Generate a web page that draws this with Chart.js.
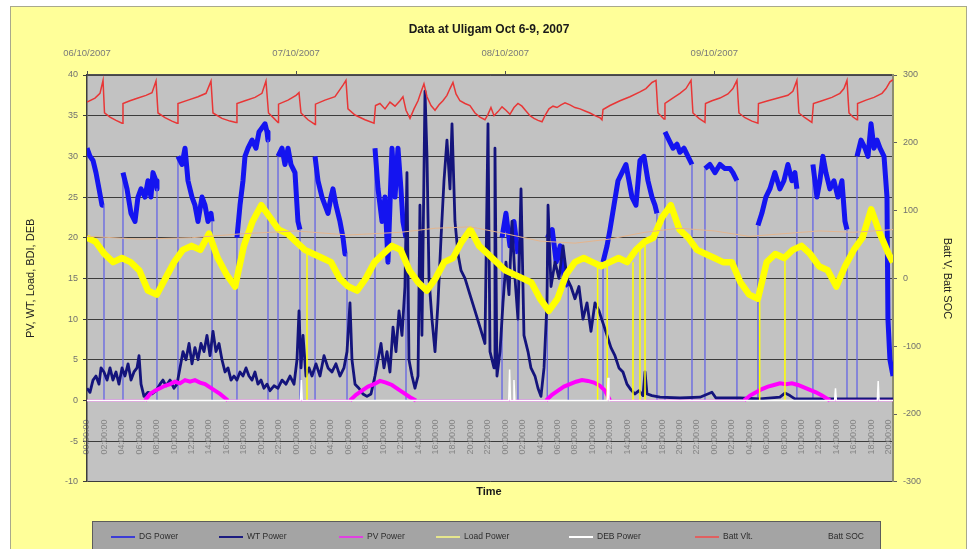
<!DOCTYPE html>
<html>
<head>
<meta charset="utf-8">
<script src="https://cdn.jsdelivr.net/npm/chart.js@4.4.0/dist/chart.umd.min.js"></script>
<style>
  html, body { margin: 0; padding: 0; background: #ffffff; }
  #wrap { width: 974px; height: 549px; }
</style>
</head>
<body>
<div id="wrap"><canvas id="chart" width="974" height="549"></canvas></div>
<script>
// hours counted from 06/10/2007 00:00
const dateLabels = ["06/10/2007", "07/10/2007", "08/10/2007", "09/10/2007"];
const timeLabels = [
  "00:00:00", "02:00:00", "04:00:00", "06:00:00", "08:00:00", "10:00:00", "12:00:00", "14:00:00", "16:00:00", "18:00:00", "20:00:00", "22:00:00",
  "00:00:00", "02:00:00", "04:00:00", "06:00:00", "08:00:00", "10:00:00", "12:00:00", "14:00:00", "16:00:00", "18:00:00", "20:00:00", "22:00:00",
  "00:00:00", "02:00:00", "04:00:00", "06:00:00", "08:00:00", "10:00:00", "12:00:00", "14:00:00", "16:00:00", "18:00:00", "20:00:00", "22:00:00",
  "00:00:00", "02:00:00", "04:00:00", "06:00:00", "08:00:00", "10:00:00", "12:00:00", "14:00:00", "16:00:00", "18:00:00", "20:00:00"
];
const seriesNames = ["DG Power", "WT Power", "PV Power", "Load Power", "DEB Power", "Batt Vlt.", "Batt SOC"];

const dgHours = [
  0, 0.34, 0.69, 1.03, 1.38, 1.72, 1.95, 1.95,
  4.13, 4.13, 4.59, 5.05, 5.51, 5.85, 6.20, 6.66, 7.00, 7.34, 7.57, 7.92, 8.03, 8.03,
  10.44, 10.44, 10.90, 11.25, 11.59, 12.05, 12.39, 12.74, 13.20, 13.54, 13.89, 14.23, 14.35, 14.35,
  17.21, 17.21, 17.56, 17.90, 18.13, 18.48, 18.94, 19.39, 19.74, 20.08, 20.43, 20.66, 20.77, 20.77,
  21.92, 21.92, 22.38, 22.72, 23.07, 23.41, 23.87, 24.21, 24.44, 24.44,
  26.17, 26.17, 26.51, 26.97, 27.31, 27.66, 28.00, 28.23, 28.57, 29.03, 29.38, 29.61, 29.84, 29.84,
  33.05, 33.05, 33.40, 33.86, 34.20, 34.54, 34.77, 35.00, 35.35, 35.69, 36.03, 36.26, 36.61, 36.61,
  47.63, 47.63, 48.08, 48.54, 49.00, 49.46, 49.46,
  52.82, 52.82, 53.39, 53.85, 54.31, 54.77, 55.23, 55.23,
  59.22, 59.22, 59.68, 60.02, 60.48, 60.94, 61.40, 61.85, 62.20, 62.54, 63.00, 63.46, 63.92, 64.38, 64.84, 65.18, 65.41, 65.41,
  66.33, 66.33, 66.79, 67.25, 67.71, 68.05, 68.51, 68.97, 69.43, 69.43,
  70.92, 70.92, 71.49, 72.07, 72.64, 73.21, 73.79, 74.13, 74.59, 74.59,
  77.00, 77.00, 77.45, 77.91, 78.37, 78.94, 79.52, 79.98, 80.44, 80.90, 81.24, 81.47, 81.47,
  83.31, 83.31, 83.77, 84.11, 84.46, 84.80, 85.26, 85.72, 86.18, 86.64, 86.99, 87.22, 87.22,
  88.37, 88.37, 88.83, 89.29, 89.63, 89.98, 90.32, 90.67, 91.01, 91.47, 91.81, 91.92, 92.15, 92.50
];
const dgPower = [
  31, 30, 29.5, 28, 26, 24, 24, 0,
  0, 28, 26, 23, 22, 25, 26, 25, 27, 25, 28, 27, 26, 0,
  0, 30, 29, 31, 27, 25, 24, 22, 25, 24, 22, 23, 22, 0,
  0, 20, 24, 27, 30, 31, 32, 31, 33, 33.5, 34, 33, 32, 0,
  0, 30, 31, 29, 31, 29, 28, 22, 21, 0,
  0, 30, 27, 25, 24, 23, 25, 26, 24, 22, 20, 18, 18, 0,
  0, 31, 26, 22, 25, 17, 24, 31, 25, 31, 26, 22, 20, 0,
  0, 20, 23, 19, 22, 18, 0,
  0, 20, 21, 17, 19, 15, 14, 0,
  0, 17, 19, 21, 24, 27, 28, 29, 27, 25, 24, 29.5, 30, 27, 25, 24, 23, 0,
  0, 33, 32, 31, 31.5, 30.5, 31, 30, 29, 0,
  0, 28.5, 29, 28, 29, 28.5, 28.5, 28, 27, 0,
  0, 21.5, 23, 25, 26, 28, 26, 27, 29, 27, 28, 26, 0,
  0, 29, 25, 27, 30, 28, 26, 27, 25, 27, 22, 21, 0,
  0, 30, 32, 31, 30, 34, 31, 32, 31, 30, 25, 10, 5, 3
];

const wtHours = [
  0.00, 0.34, 0.69, 1.03, 1.38, 1.61, 1.95, 2.30, 2.64, 2.98,
  3.33, 3.67, 4.02, 4.36, 4.71, 5.05, 5.39, 5.74, 5.97, 6.20,
  6.54, 7.00, 7.46, 7.92, 8.38, 8.72, 9.07, 9.53, 9.98, 10.33,
  10.67, 11.02, 11.36, 11.71, 12.05, 12.39, 12.74, 13.08, 13.43, 13.77,
  14.12, 14.46, 14.80, 15.15, 15.49, 15.84, 16.18, 16.53, 16.87, 17.21,
  17.56, 17.90, 18.25, 18.59, 18.94, 19.28, 19.62, 19.97, 20.31, 20.66,
  21.00, 21.46, 21.92, 22.38, 22.84, 23.30, 23.76, 24.10, 24.33, 24.56,
  24.79, 25.13, 25.48, 25.82, 26.28, 26.74, 27.20, 27.66, 28.12, 28.57,
  29.03, 29.49, 29.84, 30.18, 30.41, 30.76, 31.21, 31.67, 32.13, 32.59,
  33.05, 33.40, 33.74, 34.08, 34.43, 34.77, 35.12, 35.46, 35.81, 36.15,
  36.49, 36.72, 36.95, 37.30, 37.64, 37.99, 38.21, 38.44, 38.79, 39.02,
  39.25, 39.59, 39.94, 40.28, 40.63, 40.97, 41.31, 41.66, 41.89, 42.23,
  42.58, 42.92, 43.38, 43.95, 44.53, 45.10, 45.67, 46.02, 46.25, 46.71,
  46.82, 47.05, 47.40, 47.74, 48.08, 48.43, 48.77, 49.12, 49.46, 49.81,
  50.15, 50.61, 50.95, 51.41, 51.76, 52.10, 52.45, 52.79, 52.91, 53.25,
  53.71, 54.17, 54.63, 55.09, 55.54, 56.00, 56.46, 56.92, 57.38, 57.84,
  58.30, 58.76, 59.22, 59.68, 60.13, 60.59, 61.05, 61.51, 61.97, 62.43,
  62.89, 63.35, 63.81, 64.04, 64.27, 64.84, 65.76, 68.05, 70.35, 71.72,
  72.18, 74.94, 77.23, 79.52, 80.10, 80.67, 81.24, 84.12, 87.56, 92.50
];
const wtPower = [
  1.5, 1, 2.5, 3, 2, 4, 3.5, 2.5, 4, 2.5,
  3.5, 2, 4, 3, 4.5, 2.5, 3.5, 4, 5.5, 2,
  0.5, 1, 0.8, 1.2, 2, 2.5, 1.8, 2.5, 1.5, 2,
  4, 6, 5, 7, 4.5, 6.5, 5, 7, 6, 8,
  5.5, 8.5, 6, 7, 5, 3.5, 4, 2.5, 3, 2.5,
  3.5, 3, 4, 3, 2.5, 3.5, 2, 2.5, 1.5, 2,
  1.2, 1.8, 1.5, 2.5, 2, 3, 2, 5, 11, 4,
  8, 3, 4, 3, 4.5, 3, 5.5, 4, 3.5, 4.5,
  3, 4, 6, 12, 5, 2, 1.5, 0.8, 0.5, 0.8,
  3, 5, 7, 4, 6, 3.5, 9, 6, 11, 8,
  14, 28, 5, 3, 1.5, 3, 24, 8, 38, 30,
  15, 10, 6, 12, 20, 27, 32, 26, 34, 22,
  18, 16, 15, 13, 11, 9, 7, 34, 6, 4,
  31, 3, 6, 12, 17, 13, 22, 15, 10, 26,
  8, 6, 4, 3, 1.5, 0.5, 4, 12, 24, 14,
  17, 15, 19, 15, 14, 12.5, 14, 10, 12, 8.5,
  12, 11, 9.5, 8, 6.5, 5.5, 4, 3.5, 2, 1.3,
  0.8, 1.2, 0.6, 3.5, 0.8, 0.6, 0.4, 0.3, 0.4, 1,
  0.3, 0.3, 0.2, 0.4, 0.9, 0.6, 0.2, 0.2, 0.2, 0.2
];

const pvHours = [
  0, 6.66, 7.23, 7.80, 8.38, 8.95, 9.53, 10.10, 10.67, 11.25, 11.82, 12.39, 12.97, 13.54, 14.12, 14.69, 15.26, 15.84, 16.18,
  30.18, 30.87, 31.56, 32.25, 32.94, 33.62, 34.31, 35.00, 35.69, 36.38, 37.07, 37.76,
  52.68, 53.36, 54.05, 54.74, 55.43, 56.12, 56.81, 57.49, 58.18, 58.87, 59.45, 60.02,
  75.40, 76.09, 76.78, 77.46, 78.15, 78.84, 79.53, 80.21, 80.90, 81.59, 82.28, 82.97, 83.66, 84.35, 85.27, 92.50
];
const pvPower = [
  0, 0, 0.8, 1.2, 1.5, 1.8, 2.0, 2.3, 2.1, 2.5, 2.3, 2.5, 2.2, 2.0, 1.6, 1.2, 0.8, 0.3, 0,
  0, 0.7, 1.2, 1.7, 2.0, 2.4, 2.2, 1.9, 1.4, 0.9, 0.4, 0,
  0, 0.7, 1.2, 1.7, 2.0, 2.3, 2.5, 2.4, 2.2, 1.8, 1.2, 0,
  0, 0.6, 1.0, 1.4, 1.7, 1.9, 2.1, 2.0, 2.1, 1.9, 1.6, 1.3, 1.0, 0.6, 0, 0
];

const loadHours = [
  0, 1, 2, 3, 4, 5, 6, 7, 8, 9,
  10, 11, 12, 13, 14, 15, 16, 17, 18, 19,
  20, 21, 22, 23, 24, 25, 26, 27, 28, 29,
  30, 31, 32, 33, 34, 35, 36, 37, 38, 39,
  40, 41, 42, 43, 44, 45, 46, 47, 48, 49,
  50, 51, 52, 53, 54, 55, 56, 57, 58, 59,
  60, 61, 62, 63, 64, 65, 66, 67, 68, 69,
  70, 71, 72, 73, 74, 75, 76, 77, 78, 79,
  80, 81, 82, 83, 84, 85, 86, 87, 88, 89,
  90, 91, 92, 92.5
];
const loadPower = [
  20, 19.5, 18, 17, 17.5, 17, 16, 13.5, 13, 15,
  17, 18.5, 19, 18.5, 20.5, 17.5, 15.5, 14, 19, 22,
  24, 22.5, 21, 20.5, 19.5, 18.5, 18, 17.5, 17, 15,
  14, 13.5, 15, 17, 18, 19, 18.5, 16, 14.5, 13.5,
  15, 17, 17.5, 19.5, 21, 19, 18, 17, 16, 15.5,
  15, 14.5, 12.5, 11, 12.5, 15.5, 17, 17.5, 17, 16.5,
  17, 17.5, 17, 18.5, 19.5, 20, 22.5, 24, 21, 20,
  18.5, 18, 17.5, 17, 17, 14.5, 13, 12.5, 17, 18,
  17.5, 18.5, 19, 18, 16.5, 16, 14, 16.5, 18.5, 20,
  23.5, 20.5, 18, 17
];
// short load drop-outs to zero
const loadDropHours = [25.25, 58.6, 59.7, 62.66, 63.46, 64.04, 77.2, 80.1];
const loadDropTops = [18.3, 17, 16.7, 17, 18.7, 19.5, 12.6, 17.5];

const debHours = [0, 24.5, 24.6, 24.7, 48.4, 48.5, 48.6, 48.9, 49.0, 49.1, 59.7, 59.8, 59.9, 85.8, 85.9, 86.0, 90.7, 90.8, 90.9, 92.5];
const debPower = [0, 0, 2.5, 0, 0, 3.8, 0, 0, 2.5, 0, 0, 2.8, 0, 0, 1.5, 0, 0, 2.4, 0, 0];

const battHours = [
  0.00, 0.92, 1.49, 1.84, 2.01, 2.64, 3.33, 4.02, 4.13, 4.93,
  5.85, 6.77, 7.46, 7.92, 8.15, 8.95, 9.75, 10.33, 10.44, 11.59,
  12.74, 13.66, 14.23, 14.46, 15.49, 16.41, 17.10, 17.21, 18.13, 19.28,
  20.08, 20.54, 20.83, 21.46, 21.92, 21.98, 23.07, 23.99, 24.33, 24.56,
  25.36, 26.17, 26.22, 27.31, 28.46, 29.38, 29.72, 29.95, 30.76, 31.90,
  32.94, 33.11, 33.62, 34.20, 34.77, 35.35, 35.92, 36.26, 36.61, 37.07,
  37.53, 37.99, 38.33, 38.67, 39.02, 39.48, 39.94, 40.40, 40.85, 41.31,
  41.66, 42.00, 42.35, 42.80, 43.38, 43.95, 44.53, 45.10, 45.67, 46.02,
  46.36, 46.71, 47.17, 47.63, 48.08, 48.54, 49.00, 49.46, 49.92, 50.38,
  50.84, 51.30, 51.76, 52.22, 52.56, 53.02, 53.48, 53.94, 54.40, 54.86,
  55.43, 56.00, 56.58, 57.15, 57.72, 58.30, 58.87, 59.10, 59.22, 60.02,
  61.17, 62.31, 63.46, 64.15, 64.84, 65.30, 65.53, 66.22, 66.33, 67.14,
  68.05, 68.74, 69.32, 69.54, 70.23, 70.92, 70.98, 71.72, 72.64, 73.56,
  74.13, 74.59, 74.82, 75.51, 76.31, 77.00, 77.06, 78.15, 79.30, 80.44,
  81.01, 81.47, 81.70, 82.39, 83.19, 83.37, 84.35, 85.49, 86.41, 86.87,
  87.22, 87.45, 87.91, 88.37, 88.43, 89.40, 90.32, 91.24, 91.70, 92.15,
  92.50
];
const battVolt = [
  260, 266, 273, 292, 244, 238, 233, 229, 258, 262,
  266, 270, 274, 291, 244, 237, 232, 229, 258, 263,
  268, 273, 291, 244, 236, 232, 230, 258, 262, 267,
  273, 291, 244, 236, 230, 257, 263, 270, 274, 244,
  234, 227, 257, 263, 268, 285, 292, 250, 241, 234,
  229, 255, 258, 250, 260, 254, 262, 268, 248, 236,
  250, 262, 275, 287, 268, 255, 248, 256, 262, 270,
  280, 289, 272, 262, 258, 255, 244, 238, 234, 242,
  252, 240, 246, 253, 248, 242, 252, 258, 254, 247,
  240, 236, 233, 231, 240, 250, 254, 252, 256, 259,
  256, 252, 250, 247, 244, 240, 237, 234, 249, 255,
  262, 268, 275, 280, 289, 292, 244, 235, 258, 265,
  273, 280, 292, 244, 236, 230, 258, 262, 266, 272,
  280, 292, 244, 237, 232, 229, 258, 262, 266, 270,
  276, 292, 244, 237, 230, 258, 262, 267, 273, 280,
  292, 244, 238, 234, 258, 263, 267, 273, 280, 290,
  293
];

const socHours = [0, 6, 12, 18, 24, 30, 36, 40, 44, 48, 52, 56, 60, 64, 68, 72, 76, 80, 84, 88, 92.5];
const socValues = [62, 58, 60, 66, 70, 64, 68, 74, 76, 66, 55, 52, 58, 68, 74, 70, 62, 66, 70, 68, 72];

function points(hours, values) {
  if (hours.length !== values.length) console.error("length mismatch", hours.length, values.length);
  return hours.map((h, i) => ({ x: h, y: values[i] }));
}

const dropPoints = [];
loadDropHours.forEach((h, i) => {
  dropPoints.push({ x: h, y: loadDropTops[i] }, { x: h, y: 0 }, { x: h, y: null });
});

const isVertical = c => c.p0.parsed.x === c.p1.parsed.x;
const isFlatZero = c => c.p0.parsed.y === 0 && c.p1.parsed.y === 0;

// frame, plot background and the boxed legend at the bottom
const legendLineX = [111, 219, 339, 436, 569, 695, 800];
const frame = {
  id: "frame",
  beforeDraw(chart) {
    const { ctx, chartArea: a, width, height } = chart;
    ctx.save();
    ctx.fillStyle = "#ffffff";
    ctx.fillRect(0, 0, width, height);
    ctx.fillStyle = "#ffff99";
    ctx.fillRect(10, 6, 957, height);
    ctx.strokeStyle = "#a9a98c";
    ctx.lineWidth = 1;
    ctx.strokeRect(10.5, 6.5, 956, height + 10);
    ctx.fillStyle = "#c2c2c2";
    ctx.fillRect(a.left, a.top, a.right - a.left, a.bottom - a.top);
    ctx.restore();
  },
  afterDraw(chart) {
    const { ctx } = chart;
    ctx.save();
    ctx.fillStyle = "#a4a4a4";
    ctx.fillRect(92, 521, 788, 40);
    ctx.strokeStyle = "#5c5c5c";
    ctx.lineWidth = 1;
    ctx.strokeRect(92.5, 521.5, 788, 40);
    ctx.font = '8.5px "Liberation Sans", Arial, sans-serif';
    ctx.textBaseline = "middle";
    seriesNames.forEach((name, i) => {
      const ds = chart.data.datasets[i];
      const x = legendLineX[i];
      if (ds.legendColor) {
        ctx.strokeStyle = ds.legendColor;
        ctx.lineWidth = 2;
        ctx.beginPath();
        ctx.moveTo(x, 537);
        ctx.lineTo(x + 24, 537);
        ctx.stroke();
      }
      ctx.fillStyle = "#2c2c2c";
      ctx.fillText(name, x + 28, 537);
    });
    ctx.restore();
  }
};

Chart.defaults.font.family = '"Liberation Sans", Arial, sans-serif';

const ctx = document.getElementById("chart").getContext("2d");
new Chart(ctx, {
  type: "line",
  plugins: [frame],
  data: {
    datasets: [
      {
        label: seriesNames[0], data: points(dgHours, dgPower), order: 7,
        borderColor: "#1414f0", borderWidth: 5, borderJoinStyle: "round", legendColor: "#3c3cd6",
        segment: {
          borderWidth: c => isVertical(c) ? 1.3 : (isFlatZero(c) ? 1 : 5),
          borderColor: c => isVertical(c) ? "#6464e4" : "#1414f0"
        }
      },
      {
        label: seriesNames[1], data: points(wtHours, wtPower), order: 6,
        borderColor: "#14147c", borderWidth: 2.8, borderJoinStyle: "round", legendColor: "#1c1c80"
      },
      {
        label: seriesNames[2], data: points(pvHours, pvPower), order: 5,
        borderColor: "#ff00ff", borderWidth: 4, legendColor: "#e040e0",
        segment: { borderWidth: c => isFlatZero(c) ? 1.5 : 4 }
      },
      {
        label: seriesNames[3], data: points(loadHours, loadPower), order: 4,
        borderColor: "#ffff00", borderWidth: 6.5, borderJoinStyle: "round", legendColor: "#e6e68c"
      },
      {
        label: seriesNames[4], data: points(debHours, debPower), order: 3,
        borderColor: "#ffffff", borderWidth: 1.5, legendColor: "#ffffff"
      },
      {
        label: seriesNames[5], data: points(battHours, battVolt), yAxisID: "y2", order: 2,
        borderColor: "#e83636", borderWidth: 1.5, legendColor: "#e06060"
      },
      {
        label: seriesNames[6], data: points(socHours, socValues), yAxisID: "y2", order: 1,
        borderColor: "#e4b48c", borderWidth: 1, legendColor: null
      },
      {
        label: "load drop", data: dropPoints, order: 4.5, spanGaps: false,
        borderColor: "#ffff00", borderWidth: 1.5
      }
    ]
  },
  options: {
    responsive: false,
    animation: false,
    events: [],
    layout: { padding: { left: 20, right: 16, top: 0, bottom: 50 } },
    elements: { point: { radius: 0 }, line: { tension: 0 } },
    plugins: {
      legend: { display: false },
      tooltip: { enabled: false },
      title: {
        display: true, text: "Data at Uligam Oct 6-9, 2007", color: "#1a1a1a",
        font: { size: 12, weight: "bold" }, padding: { top: 22, bottom: 8.6 }
      },
      subtitle: {
        display: true, position: "bottom", text: "Time", color: "#1a1a1a",
        font: { size: 11, weight: "bold" }, padding: { top: 4, bottom: 0 }
      }
    },
    scales: {
      x: {
        type: "linear", position: { y: 0 }, min: 0, max: 92.5,
        grid: { display: false },
        border: { display: false },
        ticks: {
          stepSize: 2, autoSkip: false, includeBounds: false, minRotation: 90, maxRotation: 90,
          padding: 11, color: "#858585", font: { size: 9 },
          callback: (v, i) => timeLabels[i]
        }
      },
      x2: {
        type: "linear", position: "top", min: 0, max: 92.5,
        grid: { drawOnChartArea: false, tickLength: 4, color: "#505050" },
        border: { color: "#505050", width: 1.5 },
        ticks: {
          stepSize: 24, includeBounds: false, autoSkip: false, maxRotation: 0, padding: 12,
          color: "#7a7a7a", font: { size: 9.5 }, callback: (v, i) => dateLabels[i]
        },
        afterFit: s => { s.height = 30; }
      },
      y: {
        min: -10, max: 40,
        grid: { color: "#3c3c3c", lineWidth: 1, tickLength: 4 },
        border: { color: "#3c3c3c", width: 1.5 },
        ticks: { stepSize: 5, padding: 5, color: "#707070", font: { size: 9 } },
        title: { display: true, text: "PV, WT, Load, BDI, DEB", color: "#222222", font: { size: 11 }, padding: { top: 4, bottom: 0 } },
        afterFit: s => { s.width = 67; }
      },
      y2: {
        position: "right", min: -300, max: 300,
        grid: { drawOnChartArea: false, tickLength: 4, color: "#606060" },
        border: { color: "#8c8c70", width: 2 },
        ticks: { stepSize: 100, padding: 6, color: "#707070", font: { size: 9 } },
        title: { display: true, text: "Batt V, Batt SOC", color: "#222222", font: { size: 11 }, padding: { top: 4, bottom: 0 } },
        afterFit: s => { s.width = 65; }
      }
    }
  }
});
</script>
</body>
</html>
